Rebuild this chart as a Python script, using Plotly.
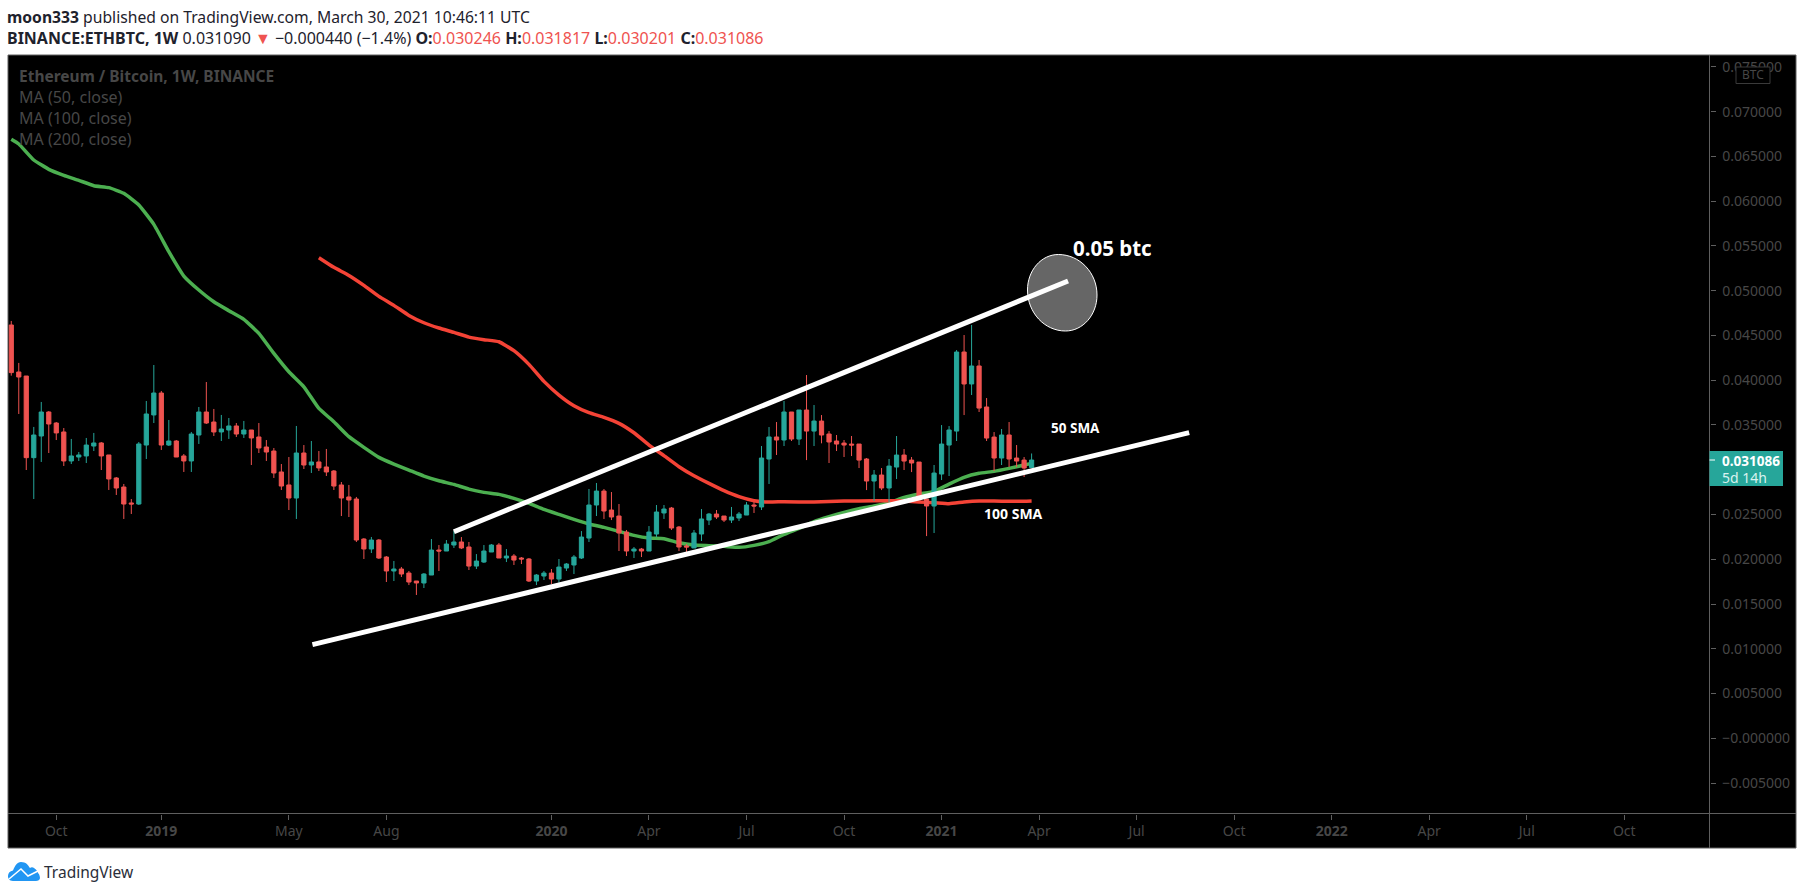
import pandas as pd
import plotly.graph_objects as go

W, H = 1805, 895

# plot area edges in page pixels
LEFT, RIGHT, TOP, BOTTOM = 8.5, 1709.5, 55, 813.5
OUTER_RIGHT, OUTER_BOTTOM = 1796, 848

GREEN = "#26a69a"
RED = "#ef5350"
GREY_TEXT = "#474747"
BORDER = "#5f5f5f"
FONT = "Noto Sans"

# weekly candles
weeks = pd.date_range("2018-08-20", periods=137, freq="7D")

open_ = [
    .04617, .04092, .04047, .03135, .03377, .03645, .03522, .03422, .03098, .03142,
    .03154, .03265, .03299, .03165, .02908, .02807, .02629, .02617, .03276, .03612,
    .03857, .03276, .03321, .03154, .03098, .03388, .03645, .03533, .03422, .03444,
    .03489, .03399, .03444, .03366, .03254, .03209, .02975, .02830, .02684, .03187,
    .03053, .03087, .03031, .02986, .02830, .02696, .02673, .02226, .02115, .02215,
    .02025, .01869, .01891, .01846, .01757, .01735, .01824, .02103, .02092, .02159,
    .02193, .02137, .01924, .01969, .02081, .02159, .02014, .02036, .02014, .02003,
    .01757, .01813, .01846, .01779, .01902, .01936, .02014, .02237, .02606, .02762,
    .02550, .02483, .02304, .02092, .02114, .02092, .02282, .02517, .02572, .02360,
    .02148, .02126, .02282, .02438, .02505, .02483, .02438, .02461, .02494, .02606,
    .02584, .03120, .03366, .03332, .03645, .03343, .03667, .03432, .03544, .03399,
    .03321, .03298, .03287, .03287, .03120, .02874, .02941, .02796, .03030, .03164,
    .03108, .03086, .02673, .02595, .02952, .03276, .03432, .04315, .03958, .04159,
    .03701, .03365, .03131, .03388, .03131, .03108, .030246,
]
high = [
    .04662, .04193, .04047, .03478, .03757, .03656, .03533, .03466, .03344, .03198,
    .03355, .03411, .03310, .03165, .02919, .02841, .02673, .03310, .03768, .04170,
    .03880, .03556, .03332, .03176, .03422, .03701, .03980, .03679, .03612, .03578,
    .03522, .03545, .03444, .03522, .03332, .03243, .03064, .03142, .03489, .03276,
    .03321, .03209, .03232, .02997, .02863, .02830, .02696, .02237, .02249, .02226,
    .02036, .01981, .01914, .01869, .01757, .01846, .02226, .02159, .02215, .02315,
    .02248, .02193, .02058, .02159, .02170, .02181, .02114, .02058, .02025, .02014,
    .01835, .01869, .01891, .02003, .01958, .02047, .02315, .02785, .02852, .02785,
    .02751, .02617, .02327, .02137, .02126, .02371, .02606, .02606, .02584, .02371,
    .02170, .02327, .02561, .02517, .02550, .02483, .02584, .02528, .02639, .02639,
    .03265, .03477, .03533, .03768, .03645, .03667, .04058, .03723, .03611, .03432,
    .03388, .03332, .03377, .03287, .03131, .02997, .03019, .03120, .03377, .03231,
    .03142, .03086, .02673, .03053, .03499, .03488, .04337, .04505, .04617, .04226,
    .03801, .03421, .03455, .03533, .03276, .03142, .031817,
]
low = [
    .04051, .03623, .02997, .02673, .03087, .03187, .03332, .03042, .03064, .03098,
    .03075, .03209, .02997, .02774, .02718, .02450, .02506, .02606, .03120, .03522,
    .03221, .03265, .03142, .02975, .02975, .03288, .03511, .03377, .03321, .03344,
    .03366, .03355, .03053, .03187, .03098, .02908, .02774, .02550, .02450, .03008,
    .02964, .02986, .02930, .02774, .02483, .02472, .02193, .02003, .02070, .02003,
    .01746, .01757, .01802, .01712, .01601, .01679, .01824, .01869, .02092, .02126,
    .02114, .01880, .01891, .01958, .02081, .02014, .01969, .01936, .01947, .01746,
    .01712, .01768, .01723, .01738, .01869, .01835, .02003, .02193, .02483, .02450,
    .02438, .02092, .02036, .02014, .02025, .02092, .02248, .02450, .02327, .02092,
    .02081, .02126, .02204, .02382, .02450, .02416, .02405, .02427, .02494, .02517,
    .02550, .02841, .03165, .03265, .03321, .03276, .03108, .03265, .03295, .03075,
    .03209, .03142, .03153, .03019, .02773, .02650, .02773, .02639, .02896, .02997,
    .02974, .02662, .02259, .02293, .02885, .02930, .03321, .03611, .03835, .03645,
    .03321, .02986, .03053, .03030, .03030, .02919, .030201,
]
close = [
    .04085, .04036, .03135, .03388, .03645, .03511, .03411, .03098, .03154, .03165,
    .03276, .03299, .03154, .02897, .02796, .02617, .02617, .03288, .03623, .03857,
    .03276, .03321, .03142, .03098, .03399, .03645, .03522, .03422, .03455, .03489,
    .03399, .03444, .03355, .03243, .03198, .02964, .02818, .02684, .03187, .03053,
    .03087, .03020, .02975, .02818, .02684, .02662, .02215, .02115, .02215, .02014,
    .01869, .01891, .01835, .01746, .01735, .01835, .02103, .02092, .02170, .02193,
    .02126, .01924, .01980, .02092, .02159, .02014, .02036, .01991, .02003, .01757,
    .01824, .01846, .01779, .01913, .01947, .02025, .02248, .02606, .02762, .02539,
    .02472, .02293, .02092, .02114, .02092, .02304, .02528, .02561, .02349, .02137,
    .02137, .02293, .02450, .02505, .02472, .02438, .02472, .02505, .02606, .02595,
    .03131, .03366, .03332, .03645, .03343, .03667, .03432, .03544, .03388, .03310,
    .03287, .03276, .03276, .03108, .02874, .02941, .02796, .03041, .03164, .03097,
    .03075, .02662, .02595, .02963, .03287, .03444, .04315, .03958, .04159, .03689,
    .03354, .03131, .03388, .03120, .03097, .03019, .031086,
]

# moving averages, read every second week or so
ma50_week = [0, 1, 3, 5, 7, 9, 11, 13, 15, 17, 19, 21, 23, 25, 27, 29, 31, 33, 35, 37,
             39, 41, 43, 45, 47, 49, 51, 53, 55, 57, 59, 61, 63, 65, 67, 69, 71, 73,
             75, 77, 79, 81, 83, 85, 87, 89, 91, 93, 95, 97, 99, 101, 103, 105, 107,
             109, 111, 113, 115, 117, 119, 121, 123, 125, 127, 129, 131, 133, 135, 136]
ma50 = [.06691, .06639, .06460, .06356, .06289, .06233, .06173, .06151, .06088, .05957,
        .05741, .05436, .05164, .05008, .04877, .04777, .04680, .04524, .04300, .04095,
        .03927, .03685, .03536, .03369, .03250, .03138, .03063, .02996, .02929, .02877,
        .02836, .02784, .02747, .02725, .02680, .02624, .02557, .02501,
        .02446, .02394, .02356, .02312, .02267, .02237, .02230, .02185, .02159, .02152,
        .02144, .02133, .02155, .02196, .02278, .02345, .02420,
        .02475, .02524, .02565, .02595, .02632, .02691, .02729, .02758, .02840, .02915,
        .02960, .02982, .03015, .03053, .03071]

ma100_week = [41, 43, 45, 47, 49, 51, 53, 55, 57, 59, 61, 63, 65, 67, 69, 71, 73, 75, 77,
              79, 81, 83, 85, 87, 89, 91, 93, 95, 97, 99, 101, 103, 107, 111, 115, 117,
              119, 121, 123, 125, 127, 129, 131, 133, 135, 136]
ma100 = [.05369, .05261, .05171, .05060, .04937, .04836, .04724, .04642, .04583, .04534,
         .04482, .04453, .04430, .04330, .04177, .03987, .03834, .03715, .03637,
         .03585, .03518, .03413, .03276, .03157, .03034, .02933, .02847, .02766, .02699,
         .02654, .02639, .02643, .02639, .02650, .02654, .02654,
         .02650, .02639, .02632, .02621, .02639, .02650, .02650, .02647, .02647, .02650]

# drawn trend lines
upper_x = ["2019-10-07", "2021-05-02"]
upper_y = [.02308, .05108]
lower_x = ["2019-05-28", "2021-08-23"]
lower_y = [.01047, .03414]

# axis ticks (0.030000 is hidden behind the price tag)
price_ticks = [-.005, 0, .005, .01, .015, .02, .025, .03, .035, .04, .045, .05, .055, .06,
               .065, .07, .075]
price_labels = ["−0.005000", "−0.000000", "0.005000", "0.010000", "0.015000", "0.020000",
                "0.025000", "", "0.035000", "0.040000", "0.045000", "0.050000",
                "0.055000", "0.060000", "0.065000", "0.070000", "0.075000"]
date_ticks = ["2018-10-01", "2019-01-07", "2019-05-06", "2019-08-05", "2020-01-06", "2020-04-06",
              "2020-07-06", "2020-10-05", "2021-01-04", "2021-04-05", "2021-07-05", "2021-10-04",
              "2022-01-03", "2022-04-04", "2022-07-04", "2022-10-03"]
date_labels = ["Oct", "<b>2019</b>", "May", "Aug", "<b>2020</b>", "Apr", "Jul", "Oct",
               "<b>2021</b>", "Apr", "Jul", "Oct", "<b>2022</b>", "Apr", "Jul", "Oct"]


def px(x):
    return x / W


def py(y):
    return 1 - y / H


def pt(x, y):
    return f"{px(x):.5f},{py(y):.5f}"


def note(x, y, text, size=14, color=GREY_TEXT, xanchor="left", family=FONT):
    return dict(xref="paper", yref="paper", x=px(x), y=py(y), text=text, showarrow=False,
                xanchor=xanchor, yanchor="middle", align="left", borderpad=0,
                font=dict(size=size, color=color, family=family))


def box(x0, y0, x1, y1, **kw):
    return dict(type="rect", xref="paper", yref="paper", x0=px(x0), y0=py(y0), x1=px(x1), y1=py(y1), **kw)


def seg(x0, y0, x1, y1, color=BORDER, width=1):
    return dict(type="line", xref="paper", yref="paper", x0=px(x0), y0=py(y0), x1=px(x1), y1=py(y1),
                line=dict(color=color, width=width), layer="above")


fig = go.Figure()

# moving averages sit under the candles, trend lines on top
fig.add_trace(go.Scatter(x=weeks[ma50_week], y=ma50, mode="lines", zorder=0,
                         line=dict(color="#4caf50", width=3.5, shape="spline", smoothing=0.4)))
fig.add_trace(go.Scatter(x=weeks[ma100_week], y=ma100, mode="lines", zorder=0,
                         line=dict(color="#f44336", width=3.5, shape="spline", smoothing=0.4)))
fig.add_trace(go.Candlestick(x=weeks, open=open_, high=high, low=low, close=close, zorder=1,
                             whiskerwidth=0,
                             increasing=dict(line=dict(color=GREEN, width=1), fillcolor=GREEN),
                             decreasing=dict(line=dict(color=RED, width=1), fillcolor=RED)))
fig.add_trace(go.Scatter(x=upper_x, y=upper_y, mode="lines", zorder=2, line=dict(color="white", width=5)))
fig.add_trace(go.Scatter(x=lower_x, y=lower_y, mode="lines", zorder=2, line=dict(color="white", width=5)))

# tilted ellipse around the target
k = 0.5523
et, er, eb, el = (1058.3, 254.5), (1097, 295), (1065.5, 331), (1027.5, 290)
ellipse = (
    f"M {pt(*et)} "
    f"C {pt(et[0] + k * (er[0] - et[0]), et[1])} {pt(er[0], er[1] - k * (er[1] - et[1]))} {pt(*er)} "
    f"C {pt(er[0], er[1] + k * (eb[1] - er[1]))} {pt(eb[0] + k * (er[0] - eb[0]), eb[1])} {pt(*eb)} "
    f"C {pt(eb[0] - k * (eb[0] - el[0]), eb[1])} {pt(el[0], el[1] + k * (eb[1] - el[1]))} {pt(*el)} "
    f"C {pt(el[0], el[1] - k * (el[1] - et[1]))} {pt(et[0] - k * (et[0] - el[0]), et[1])} {pt(*et)} Z"
)

# TradingView cloud
cloud = (
    f"M {pt(13, 881)} C {pt(9, 881)} {pt(8, 878)} {pt(8, 876)} "
    f"C {pt(8, 873)} {pt(10, 871)} {pt(13, 870.5)} "
    f"C {pt(15, 866)} {pt(17, 862)} {pt(21, 862)} "
    f"C {pt(26, 862)} {pt(28, 865)} {pt(30, 868)} "
    f"C {pt(31, 867)} {pt(33, 867)} {pt(34, 868)} "
    f"C {pt(37, 870)} {pt(38, 872)} {pt(38, 873)} "
    f"C {pt(40, 875)} {pt(40, 878)} {pt(40, 878)} "
    f"C {pt(40, 880)} {pt(38, 881)} {pt(36, 881)} Z"
)
cloud_line = f"M {pt(9, 879)} L {pt(21, 869)} L {pt(28, 876)} L {pt(38, 871)}"

shapes = [
    box(8, 55, OUTER_RIGHT, OUTER_BOTTOM, fillcolor="black", line=dict(color=BORDER, width=1), layer="below"),
    dict(type="path", xref="paper", yref="paper", path=ellipse, fillcolor="#666666",
         line=dict(color="white", width=1), layer="below"),
    seg(8, 813.5, OUTER_RIGHT, 813.5),
    seg(1709.5, 55, 1709.5, OUTER_BOTTOM),
    # price tag and currency badge
    box(1709.5, 451, 1783, 486, fillcolor=GREEN, line=dict(width=0), layer="above"),
    seg(1709.5, 460, 1715, 460, color="white"),
    box(1736, 67, 1770, 83.5, fillcolor="black", line=dict(color="#3a3a3a", width=1), layer="above"),
    dict(type="path", xref="paper", yref="paper", path=cloud, fillcolor="#2196f3", line=dict(width=0), layer="above"),
    dict(type="path", xref="paper", yref="paper", path=cloud_line, line=dict(color="white", width=1.5), layer="above"),
]

red_span = '<span style="color:#ef5350">{}</span>'
head2 = (
    "<b>BINANCE:ETHBTC, 1W</b> 0.031090 " + red_span.format("▼") + " −0.000440 (−1.4%) "
    "<b>O:</b>" + red_span.format("0.030246") + " <b>H:</b>" + red_span.format("0.031817")
    + " <b>L:</b>" + red_span.format("0.030201") + " <b>C:</b>" + red_span.format("0.031086")
)

annotations = [
    note(6, 16.5, "<b>moon333</b> published on TradingView.com, March 30, 2021 10:46:11 UTC", size=15.7, color="#1e222d"),
    note(6, 38.5, head2, size=16, color="#1e222d"),
    note(18, 75.5, "<b>Ethereum / Bitcoin, 1W, BINANCE</b>", size=15.5),
    note(18, 97, "MA (50, close)", size=16),
    note(18, 118, "MA (100, close)", size=16),
    note(18, 139, "MA (200, close)", size=16),
    note(1071.5, 248, "<b>0.05 btc</b>", size=20.5, color="white"),
    note(1050, 427.5, "<b>50 SMA</b>", size=13.5, color="white"),
    note(982.5, 513, "<b>100 SMA</b>", size=14, color="white"),
    note(1721, 461, "<b>0.031086</b>", size=13.5, color="white"),
    note(1721, 477, "5d 14h", size=14, color="#d9f2ef"),
    note(1753, 75, "BTC", size=12, xanchor="center"),
    note(42.5, 871.5, "TradingView", size=15.5, color="#2a2e39"),
]

fig.update_layout(
    width=W,
    height=H,
    margin=dict(l=0, r=0, t=0, b=0),
    paper_bgcolor="white",
    plot_bgcolor="black",
    showlegend=False,
    boxgap=0.2,
    font=dict(family=FONT, size=14, color=GREY_TEXT),
    shapes=shapes,
    annotations=annotations,
    xaxis=dict(
        domain=[px(LEFT), px(RIGHT)],
        range=["2018-08-17 10:00", "2022-12-21 12:00"],
        rangeslider=dict(visible=False),
        tickmode="array", tickvals=date_ticks, ticktext=date_labels,
        ticks="outside", ticklen=5, tickcolor=BORDER,
        showgrid=False, zeroline=False, showline=False,
    ),
    yaxis=dict(
        domain=[py(BOTTOM), py(TOP)],
        range=[-.0084, .07633],
        side="right",
        tickmode="array", tickvals=price_ticks, ticktext=price_labels,
        ticks="outside", ticklen=5, tickcolor=BORDER, ticklabelstandoff=4,
        showgrid=False, zeroline=False, showline=False,
    ),
)

fig.write_html("out.html", config=dict(displayModeBar=False),
               post_script="document.body.style.margin='0';document.body.style.overflow='hidden';")
